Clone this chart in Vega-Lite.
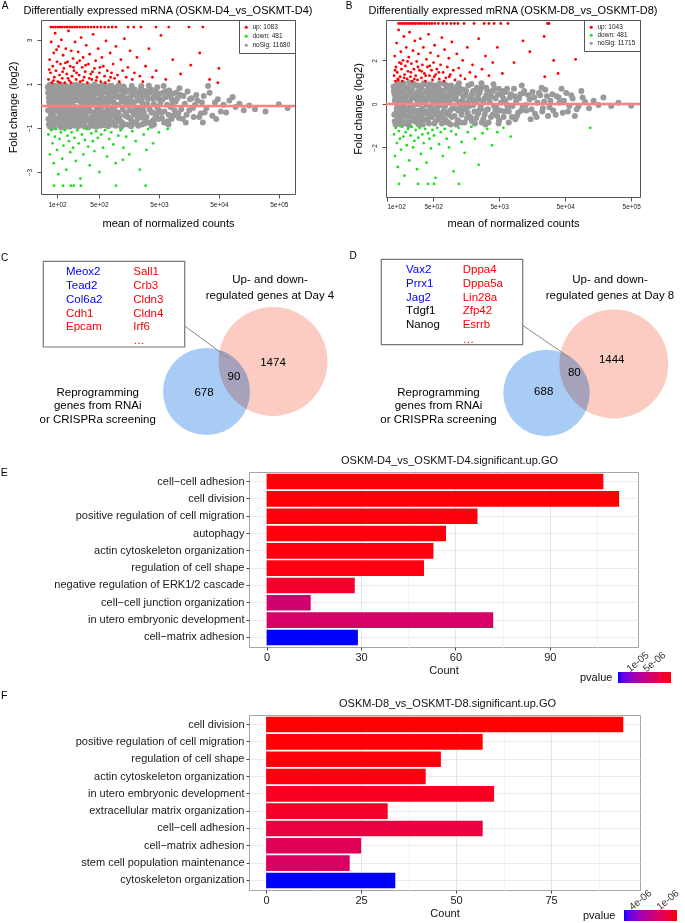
{
"$schema":"https://vega.github.io/schema/vega-lite/v6.json",
"padding":0,
"background":"white",
"config":{"font":"Liberation Sans","view":{"stroke":null},"text":{"color":"#000"}},
"datasets":{
"aN":[{"m":70,"fc":0.85},{"m":72,"fc":-0.6},{"m":74,"fc":0.2},{"m":76,"fc":-0.95},{"m":78,"fc":0.55},{"m":71,"fc":-0.2},{"m":75,"fc":0.95},{"m":79,"fc":-0.4},{"m":73,"fc":0.38},{"m":77,"fc":-0.78},{"m":80,"fc":0.05},
{"m":84,"fc":0.7},{"m":86,"fc":-0.3},{"m":88,"fc":0.92},{"m":90,"fc":-0.85},{"m":92,"fc":0.15},{"m":95,"fc":-0.55},{"m":97,"fc":0.45},{"m":99,"fc":-0.1},{"m":87,"fc":-0.97},{"m":93,"fc":0.62},{"m":98,"fc":0.88},{"m":91,"fc":-0.68},{"m":85,"fc":0.3},
{"m":104,"fc":-0.2},{"m":107,"fc":0.75},{"m":110,"fc":-0.9},{"m":113,"fc":0.4},{"m":116,"fc":-0.45},{"m":119,"fc":0.95},{"m":122,"fc":0.1},{"m":125,"fc":-0.7},{"m":128,"fc":0.58},{"m":106,"fc":0.22},{"m":112,"fc":-0.33},{"m":118,"fc":-0.98},{"m":124,"fc":0.82},{"m":130,"fc":-0.05},
{"m":134,"fc":0.35},{"m":138,"fc":-0.62},{"m":142,"fc":0.9},{"m":146,"fc":-0.15},{"m":150,"fc":0.65},{"m":154,"fc":-0.88},{"m":158,"fc":0.05},{"m":162,"fc":0.48},{"m":166,"fc":-0.4},{"m":170,"fc":0.8},{"m":140,"fc":-0.95},{"m":148,"fc":0.2},{"m":156,"fc":-0.5},{"m":168,"fc":-0.72},
{"m":175,"fc":0.12},{"m":180,"fc":-0.3},{"m":186,"fc":0.72},{"m":192,"fc":-0.8},{"m":198,"fc":0.42},{"m":204,"fc":-0.05},{"m":210,"fc":0.95},{"m":216,"fc":-0.6},{"m":222,"fc":0.28},{"m":228,"fc":-0.92},{"m":183,"fc":0.55},{"m":195,"fc":-0.45},{"m":207,"fc":0.6},{"m":219,"fc":0.85},{"m":225,"fc":-0.2},
{"m":235,"fc":0.5},{"m":242,"fc":-0.75},{"m":250,"fc":0.15},{"m":258,"fc":-0.35},{"m":266,"fc":0.88},{"m":274,"fc":-0.55},{"m":282,"fc":0.32},{"m":290,"fc":-0.95},{"m":298,"fc":0.7},{"m":306,"fc":-0.12},{"m":246,"fc":0.93},{"m":262,"fc":-0.85},{"m":278,"fc":0.02},{"m":294,"fc":0.45},{"m":310,"fc":-0.65},
{"m":320,"fc":0.6},{"m":330,"fc":-0.25},{"m":340,"fc":0.9},{"m":352,"fc":-0.7},{"m":364,"fc":0.22},{"m":376,"fc":-0.5},{"m":388,"fc":0.78},{"m":400,"fc":-0.9},{"m":412,"fc":0.35},{"m":335,"fc":-0.97},{"m":358,"fc":0.5},{"m":382,"fc":0.05},{"m":405,"fc":-0.3},{"m":420,"fc":0.97},{"m":346,"fc":0.1},
{"m":430,"fc":-0.45},{"m":444,"fc":0.68},{"m":458,"fc":-0.15},{"m":472,"fc":0.88},{"m":486,"fc":-0.8},{"m":500,"fc":0.3},{"m":515,"fc":-0.55},{"m":530,"fc":0.55},{"m":545,"fc":-0.05},{"m":560,"fc":0.92},{"m":450,"fc":-0.95},{"m":478,"fc":0.12},{"m":508,"fc":0.78},{"m":538,"fc":-0.75},{"m":552,"fc":0.4},
{"m":580,"fc":-0.3},{"m":600,"fc":0.62},{"m":620,"fc":-0.88},{"m":640,"fc":0.18},{"m":660,"fc":-0.45},{"m":680,"fc":0.85},{"m":700,"fc":-0.1},{"m":720,"fc":0.45},{"m":740,"fc":-0.7},{"m":590,"fc":0.95},{"m":630,"fc":-0.6},{"m":670,"fc":0.3},{"m":710,"fc":-0.92},{"m":750,"fc":0.7},
{"m":770,"fc":-0.2},{"m":800,"fc":0.55},{"m":830,"fc":-0.75},{"m":860,"fc":0.2},{"m":890,"fc":-0.4},{"m":920,"fc":0.8},{"m":950,"fc":-0.9},{"m":980,"fc":0.05},{"m":1000,"fc":0.4},{"m":815,"fc":0.92},{"m":875,"fc":-0.05},{"m":935,"fc":-0.55},{"m":965,"fc":0.65},
{"m":1050,"fc":-0.3},{"m":1100,"fc":0.75},{"m":1150,"fc":-0.7},{"m":1200,"fc":0.25},{"m":1250,"fc":-0.15},{"m":1300,"fc":0.6},{"m":1350,"fc":-0.85},{"m":1400,"fc":0.1},{"m":1080,"fc":0.95},{"m":1180,"fc":-0.95},{"m":1280,"fc":0.88},{"m":1380,"fc":-0.45},{"m":1220,"fc":0.45},
{"m":1450,"fc":0.35},{"m":1520,"fc":-0.5},{"m":1600,"fc":0.7},{"m":1680,"fc":-0.2},{"m":1760,"fc":0.9},{"m":1840,"fc":-0.75},{"m":1920,"fc":0.15},{"m":2000,"fc":-0.4},{"m":1560,"fc":0.05},{"m":1720,"fc":-0.92},{"m":1880,"fc":0.55},{"m":1650,"fc":0.4},
{"m":2100,"fc":0.6},{"m":2200,"fc":-0.6},{"m":2300,"fc":0.25},{"m":2400,"fc":-0.1},{"m":2500,"fc":0.8},{"m":2600,"fc":-0.85},{"m":2700,"fc":0.4},{"m":2800,"fc":-0.3},{"m":2900,"fc":0.05},{"m":3000,"fc":0.68},{"m":2250,"fc":-0.9},{"m":2550,"fc":0.9},{"m":2850,"fc":-0.6},
{"m":3100,"fc":-0.5},{"m":3300,"fc":0.3},{"m":3500,"fc":-0.15},{"m":3700,"fc":0.75},{"m":3900,"fc":-0.7},{"m":4100,"fc":0.1},{"m":4300,"fc":0.5},{"m":4500,"fc":-0.4},{"m":4700,"fc":0.85},{"m":5000,"fc":-0.2},{"m":3400,"fc":0.92},{"m":3800,"fc":-0.9},{"m":4200,"fc":-0.6},{"m":4800,"fc":0.35},
{"m":5300,"fc":0.15},{"m":5600,"fc":-0.55},{"m":5900,"fc":0.6},{"m":6200,"fc":-0.25},{"m":6600,"fc":0.4},{"m":7000,"fc":-0.7},{"m":7400,"fc":0.7},{"m":7800,"fc":-0.05},{"m":8200,"fc":0.3},{"m":8700,"fc":-0.45},{"m":6000,"fc":0.9},{"m":7200,"fc":-0.85},{"m":8400,"fc":0.55},
{"m":9500,"fc":0.2},{"m":10500,"fc":-0.35},{"m":11500,"fc":0.5},{"m":12500,"fc":-0.6},{"m":13500,"fc":0.1},{"m":15000,"fc":0.65},{"m":16000,"fc":-0.2},{"m":17500,"fc":0.35},{"m":19000,"fc":-0.5},{"m":20000,"fc":0.05},{"m":11000,"fc":0.8},{"m":14000,"fc":-0.75},
{"m":22000,"fc":0.25},{"m":25000,"fc":-0.35},{"m":28000,"fc":0.45},{"m":31000,"fc":-0.1},{"m":35000,"fc":0.6},{"m":39000,"fc":-0.45},{"m":43000,"fc":0.15},{"m":48000,"fc":0.3},{"m":54000,"fc":-0.25},{"m":60000,"fc":0.05},{"m":33000,"fc":0.9},{"m":45000,"fc":-0.6},{"m":27000,"fc":-0.75},
{"m":66000,"fc":-0.3},{"m":75000,"fc":0.25},{"m":85000,"fc":0.4},{"m":95000,"fc":-0.05},{"m":110000,"fc":0.1},{"m":130000,"fc":-0.2},{"m":160000,"fc":0.02},{"m":200000,"fc":-0.15},{"m":300000,"fc":-0.25},{"m":500000,"fc":0.08},{"m":700000,"fc":-0.1},
{"m":160,"fc":0.3},{"m":210,"fc":-0.25},{"m":260,"fc":0.4},{"m":320,"fc":-0.1},{"m":380,"fc":0.3},{"m":460,"fc":0.25},{"m":520,"fc":-0.35},{"m":610,"fc":0.05},{"m":720,"fc":-0.35},{"m":850,"fc":0.45},{"m":1020,"fc":-0.55},{"m":1180,"fc":0.5},{"m":1420,"fc":-0.3},{"m":1700,"fc":0.25},{"m":2050,"fc":-0.15},{"m":2450,"fc":0.5},{"m":3200,"fc":0.05},{"m":4000,"fc":-0.3},{"m":130,"fc":0.5},{"m":240,"fc":-0.5},{"m":560,"fc":0.15},{"m":900,"fc":-0.15},{"m":1600,"fc":-0.05},{"m":2700,"fc":-0.1},
{"m":71,"fc":0.6},{"m":73,"fc":-0.85},{"m":75,"fc":0.1},{"m":77,"fc":0.72},{"m":79,"fc":-0.15},{"m":81,"fc":0.9},{"m":83,"fc":-0.5},{"m":85,"fc":-0.8},{"m":87,"fc":0.5},{"m":89,"fc":0.25},{"m":91,"fc":0.02},{"m":94,"fc":-0.25},{"m":96,"fc":0.8},{"m":100,"fc":-0.75},{"m":102,"fc":0.55},{"m":105,"fc":0.05},{"m":108,"fc":-0.55},{"m":111,"fc":0.95},{"m":114,"fc":-0.1},{"m":117,"fc":0.6},{"m":120,"fc":-0.8},{"m":123,"fc":0.3},{"m":126,"fc":-0.3},{"m":129,"fc":0.9},{"m":132,"fc":-0.55},{"m":136,"fc":0.7},{"m":139,"fc":0.0},{"m":143,"fc":-0.35},{"m":147,"fc":0.55},{"m":151,"fc":-0.75},{"m":155,"fc":0.85},{"m":159,"fc":-0.2},{"m":163,"fc":-0.95},{"m":167,"fc":0.6},{"m":172,"fc":0.25},{"m":177,"fc":-0.6},{"m":182,"fc":0.95},{"m":188,"fc":-0.05},{"m":194,"fc":0.35},{"m":200,"fc":-0.9},{"m":206,"fc":0.25},{"m":212,"fc":-0.45},{"m":218,"fc":0.7},{"m":224,"fc":-0.7},{"m":230,"fc":0.5},{"m":237,"fc":-0.1},{"m":244,"fc":0.3},{"m":252,"fc":-0.6},{"m":260,"fc":0.65},{"m":268,"fc":-0.2},{"m":276,"fc":0.9},{"m":285,"fc":-0.8},{"m":292,"fc":0.15},{"m":300,"fc":-0.4},
{"m":315,"fc":0.85},{"m":325,"fc":-0.6},{"m":338,"fc":0.35},{"m":350,"fc":-0.2},{"m":362,"fc":0.75},{"m":374,"fc":-0.85},{"m":386,"fc":0.45},{"m":398,"fc":0.15},{"m":410,"fc":-0.65},{"m":425,"fc":0.6},{"m":438,"fc":-0.3},{"m":452,"fc":0.85},{"m":466,"fc":-0.55},{"m":482,"fc":0.55},{"m":496,"fc":-0.2},{"m":512,"fc":0.1},{"m":528,"fc":-0.9},{"m":548,"fc":0.72},{"m":566,"fc":-0.4},{"m":586,"fc":0.35},{"m":606,"fc":-0.7},{"m":626,"fc":0.8},{"m":648,"fc":-0.25},{"m":670,"fc":0.6},{"m":694,"fc":-0.6},{"m":716,"fc":0.15},{"m":744,"fc":0.9},{"m":766,"fc":-0.5},{"m":792,"fc":0.3},{"m":822,"fc":-0.85},{"m":852,"fc":0.7},{"m":880,"fc":-0.3},{"m":912,"fc":0.1},{"m":944,"fc":0.6},{"m":976,"fc":-0.7},{"m":1010,"fc":0.85},{"m":1060,"fc":0.05},{"m":1110,"fc":-0.45},{"m":1165,"fc":0.4},{"m":1215,"fc":-0.75},{"m":1270,"fc":0.2},{"m":1325,"fc":0.8},{"m":1390,"fc":-0.35},{"m":1460,"fc":0.65},{"m":1540,"fc":-0.85},{"m":1620,"fc":0.25},{"m":1700,"fc":-0.6},{"m":1790,"fc":0.5},{"m":1880,"fc":-0.35},{"m":1970,"fc":0.75},{"m":2070,"fc":-0.8},{"m":2170,"fc":0.35},{"m":2280,"fc":-0.3},{"m":2390,"fc":0.6},{"m":2510,"fc":-0.5},{"m":2640,"fc":0.15},{"m":2780,"fc":0.55},{"m":2920,"fc":-0.8},
{"m":3150,"fc":0.45},{"m":3350,"fc":-0.75},{"m":3550,"fc":0.6},{"m":3750,"fc":-0.3},{"m":3950,"fc":0.35},{"m":4150,"fc":-0.85},{"m":4400,"fc":0.7},{"m":4650,"fc":-0.05},{"m":4900,"fc":-0.6},{"m":5150,"fc":0.55},{"m":5450,"fc":-0.3},{"m":5750,"fc":0.3},{"m":6100,"fc":-0.75},{"m":6450,"fc":0.65},{"m":6850,"fc":0.05},{"m":7250,"fc":-0.4},{"m":7650,"fc":0.5},{"m":8100,"fc":-0.6},{"m":8600,"fc":0.15},{"m":9100,"fc":-0.2},{"m":9700,"fc":0.6},{"m":10200,"fc":0.35},{"m":10800,"fc":-0.55},{"m":11800,"fc":-0.15},{"m":12800,"fc":0.45},{"m":14500,"fc":-0.4},{"m":16500,"fc":0.3},{"m":18500,"fc":-0.1},{"m":21000,"fc":0.5},{"m":23500,"fc":-0.5},{"m":26000,"fc":0.15},{"m":29000,"fc":-0.3}],
"aU":[{"m":79,"fc":3.58},{"m":86,"fc":3.58},{"m":94,"fc":3.58},{"m":103,"fc":3.58},{"m":112,"fc":3.58},{"m":122,"fc":3.58},{"m":134,"fc":3.58},{"m":147,"fc":3.58},{"m":162,"fc":3.58},{"m":178,"fc":3.58},{"m":196,"fc":3.58},{"m":216,"fc":3.58},{"m":240,"fc":3.58},{"m":266,"fc":3.58},{"m":295,"fc":3.58},{"m":330,"fc":3.58},{"m":370,"fc":3.58},{"m":415,"fc":3.58},{"m":470,"fc":3.58},{"m":540,"fc":3.58},{"m":620,"fc":3.58},{"m":720,"fc":3.58},{"m":830,"fc":3.58},{"m":960,"fc":3.58},{"m":1530,"fc":3.58},{"m":1900,"fc":3.58},{"m":2500,"fc":3.58},{"m":4460,"fc":3.58},{"m":7300,"fc":3.58},{"m":15800,"fc":3.58},{"m":27000,"fc":3.58},
{"m":72,"fc":1.2},{"m":75,"fc":2.1},{"m":78,"fc":1.5},{"m":80,"fc":2.9},{"m":82,"fc":1.05},{"m":85,"fc":1.8},{"m":88,"fc":2.4},{"m":90,"fc":1.3},{"m":93,"fc":3.3},{"m":96,"fc":1.6},{"m":100,"fc":2.0},{"m":103,"fc":1.1},{"m":106,"fc":2.7},{"m":110,"fc":1.4},{"m":114,"fc":1.9},{"m":118,"fc":3.0},{"m":122,"fc":1.25},{"m":126,"fc":2.3},{"m":130,"fc":1.7},{"m":135,"fc":1.05},{"m":140,"fc":2.6},{"m":145,"fc":1.45},{"m":150,"fc":2.0},{"m":155,"fc":3.4},{"m":160,"fc":1.15},{"m":166,"fc":1.8},{"m":172,"fc":2.5},{"m":178,"fc":1.35},{"m":185,"fc":2.15},{"m":192,"fc":1.6},{"m":200,"fc":2.9},{"m":208,"fc":1.2},{"m":216,"fc":1.95},{"m":225,"fc":2.45},{"m":234,"fc":1.4},{"m":243,"fc":1.1},{"m":252,"fc":3.1},{"m":262,"fc":1.75},{"m":272,"fc":2.2},{"m":283,"fc":1.3},{"m":295,"fc":1.55},{"m":307,"fc":2.75},{"m":320,"fc":1.05},{"m":335,"fc":1.9},{"m":350,"fc":2.35},{"m":365,"fc":1.45},{"m":380,"fc":1.2},{"m":400,"fc":3.25},{"m":420,"fc":1.7},{"m":440,"fc":2.05},{"m":462,"fc":1.3},{"m":485,"fc":2.6},{"m":510,"fc":1.5},{"m":535,"fc":1.1},{"m":560,"fc":2.2},{"m":590,"fc":1.8},{"m":620,"fc":1.35},{"m":655,"fc":2.95},{"m":690,"fc":1.6},{"m":730,"fc":1.15},{"m":770,"fc":2.4},{"m":810,"fc":1.5},{"m":860,"fc":1.9},{"m":910,"fc":1.25},{"m":960,"fc":2.7},{"m":1020,"fc":1.4},{"m":1090,"fc":1.1},{"m":1160,"fc":2.1},{"m":1240,"fc":1.6},{"m":1330,"fc":3.05},{"m":1420,"fc":1.3},{"m":1520,"fc":1.75},{"m":1650,"fc":2.5},{"m":1800,"fc":1.2},{"m":1950,"fc":1.5},{"m":2150,"fc":2.2},{"m":2400,"fc":1.35},{"m":2700,"fc":1.1},{"m":3000,"fc":1.8},{"m":3400,"fc":2.6},{"m":3900,"fc":1.3},{"m":4500,"fc":1.6},{"m":5400,"fc":3.2},{"m":6500,"fc":1.2},{"m":8500,"fc":2.1},{"m":11500,"fc":1.45},{"m":17000,"fc":1.85},{"m":24000,"fc":2.4},{"m":48000,"fc":1.05},{"m":50000,"fc":1.7},{"m":35000,"fc":1.2},
{"m":74,"fc":1.65},{"m":87,"fc":1.15},{"m":98,"fc":2.55},{"m":112,"fc":1.05},{"m":124,"fc":1.55},{"m":138,"fc":1.95},{"m":152,"fc":1.25},{"m":170,"fc":1.05},{"m":188,"fc":1.75},{"m":212,"fc":1.5},{"m":238,"fc":2.05},{"m":268,"fc":1.15},{"m":300,"fc":1.85},{"m":345,"fc":1.25},{"m":390,"fc":1.55},{"m":450,"fc":1.15},{"m":520,"fc":1.75},{"m":640,"fc":1.05},{"m":780,"fc":1.3}],
"aD":[{"m":72,"fc":-1.3},{"m":76,"fc":-2.2},{"m":80,"fc":-1.1},{"m":84,"fc":-1.7},{"m":88,"fc":-2.6},{"m":92,"fc":-1.4},{"m":96,"fc":-1.05},{"m":100,"fc":-2.0},{"m":105,"fc":-3.1},{"m":110,"fc":-1.5},{"m":116,"fc":-1.2},{"m":122,"fc":-2.4},{"m":128,"fc":-1.8},{"m":135,"fc":-1.1},{"m":142,"fc":-2.9},{"m":150,"fc":-1.35},{"m":158,"fc":-1.6},{"m":166,"fc":-2.1},{"m":175,"fc":-1.2},{"m":185,"fc":-1.9},{"m":195,"fc":-1.45},{"m":206,"fc":-2.5},{"m":218,"fc":-1.1},{"m":230,"fc":-1.7},{"m":245,"fc":-3.3},{"m":260,"fc":-1.3},{"m":275,"fc":-2.2},{"m":292,"fc":-1.55},{"m":310,"fc":-1.05},{"m":330,"fc":-1.85},{"m":350,"fc":-2.7},{"m":372,"fc":-1.25},{"m":395,"fc":-1.6},{"m":420,"fc":-2.05},{"m":448,"fc":-1.15},{"m":478,"fc":-1.45},{"m":510,"fc":-3.0},{"m":545,"fc":-1.3},{"m":585,"fc":-1.9},{"m":630,"fc":-1.1},{"m":680,"fc":-2.3},{"m":740,"fc":-1.5},{"m":800,"fc":-1.2},{"m":870,"fc":-1.75},{"m":950,"fc":-2.6},{"m":1050,"fc":-1.35},{"m":1150,"fc":-1.1},{"m":1280,"fc":-1.9},{"m":1420,"fc":-1.4},{"m":1600,"fc":-2.2},{"m":1800,"fc":-1.15},{"m":2050,"fc":-1.6},{"m":2400,"fc":-2.9},{"m":2800,"fc":-1.3},{"m":3300,"fc":-1.05},{"m":4000,"fc":-1.7},{"m":5000,"fc":-1.2},{"m":7000,"fc":-1.05},{"m":3100,"fc":-2.0},{"m":1250,"fc":-2.45},
{"m":89,"fc":-3.62},{"m":126,"fc":-3.62},{"m":170,"fc":-3.62},{"m":190,"fc":-3.62},{"m":250,"fc":-3.62},{"m":960,"fc":-3.62},{"m":3000,"fc":-3.62}],
"bN":[{"m":126,"fc":0.8},{"m":129,"fc":-0.5},{"m":132,"fc":0.15},{"m":135,"fc":-0.95},{"m":138,"fc":0.55},{"m":141,"fc":-0.2},{"m":144,"fc":0.95},{"m":147,"fc":-0.7},{"m":150,"fc":0.35},{"m":153,"fc":-0.35},{"m":156,"fc":0.7},{"m":159,"fc":-0.85},{"m":130,"fc":0.45},{"m":145,"fc":0.05},{"m":155,"fc":-0.6},
{"m":162,"fc":0.25},{"m":166,"fc":-0.45},{"m":170,"fc":0.9},{"m":175,"fc":-0.15},{"m":180,"fc":0.6},{"m":185,"fc":-0.9},{"m":190,"fc":0.05},{"m":195,"fc":0.75},{"m":200,"fc":-0.6},{"m":206,"fc":0.4},{"m":212,"fc":-0.25},{"m":218,"fc":0.98},{"m":168,"fc":-0.75},{"m":188,"fc":0.3},{"m":214,"fc":-0.98},
{"m":224,"fc":0.1},{"m":231,"fc":-0.55},{"m":238,"fc":0.68},{"m":246,"fc":-0.1},{"m":254,"fc":0.45},{"m":262,"fc":-0.8},{"m":270,"fc":0.85},{"m":279,"fc":0.2},{"m":288,"fc":-0.4},{"m":297,"fc":0.6},{"m":306,"fc":-0.95},{"m":315,"fc":0.3},{"m":242,"fc":0.95},{"m":266,"fc":-0.3},{"m":300,"fc":-0.65},{"m":320,"fc":0.05},
{"m":330,"fc":0.75},{"m":342,"fc":-0.2},{"m":354,"fc":0.5},{"m":366,"fc":-0.7},{"m":378,"fc":0.15},{"m":390,"fc":0.9},{"m":404,"fc":-0.45},{"m":418,"fc":0.35},{"m":432,"fc":-0.9},{"m":446,"fc":0.62},{"m":460,"fc":-0.1},{"m":348,"fc":-0.95},{"m":384,"fc":-0.35},{"m":425,"fc":0.8},{"m":455,"fc":0.2},
{"m":475,"fc":-0.6},{"m":492,"fc":0.45},{"m":510,"fc":-0.25},{"m":528,"fc":0.85},{"m":546,"fc":-0.8},{"m":565,"fc":0.1},{"m":585,"fc":0.55},{"m":605,"fc":-0.4},{"m":625,"fc":0.95},{"m":645,"fc":-0.05},{"m":665,"fc":0.3},{"m":680,"fc":-0.9},{"m":500,"fc":0.05},{"m":555,"fc":-0.5},{"m":615,"fc":0.7},
{"m":700,"fc":0.6},{"m":725,"fc":-0.3},{"m":750,"fc":0.15},{"m":775,"fc":-0.75},{"m":800,"fc":0.85},{"m":830,"fc":0.35},{"m":860,"fc":-0.5},{"m":890,"fc":0.05},{"m":920,"fc":-0.95},{"m":950,"fc":0.7},{"m":980,"fc":-0.2},{"m":1000,"fc":0.45},{"m":740,"fc":0.92},{"m":845,"fc":-0.85},{"m":965,"fc":0.25},
{"m":1050,"fc":-0.55},{"m":1100,"fc":0.2},{"m":1150,"fc":0.8},{"m":1200,"fc":-0.3},{"m":1260,"fc":0.5},{"m":1320,"fc":-0.85},{"m":1380,"fc":0.1},{"m":1440,"fc":0.65},{"m":1500,"fc":-0.15},{"m":1120,"fc":-0.95},{"m":1230,"fc":0.95},{"m":1350,"fc":-0.5},{"m":1470,"fc":0.35},
{"m":1560,"fc":0.4},{"m":1630,"fc":-0.65},{"m":1700,"fc":0.85},{"m":1780,"fc":-0.1},{"m":1860,"fc":0.3},{"m":1940,"fc":-0.8},{"m":2020,"fc":0.6},{"m":2110,"fc":-0.35},{"m":2200,"fc":0.1},{"m":2300,"fc":0.75},{"m":1660,"fc":0.05},{"m":1900,"fc":0.92},{"m":2150,"fc":-0.9},
{"m":2400,"fc":-0.45},{"m":2520,"fc":0.5},{"m":2640,"fc":-0.1},{"m":2760,"fc":0.8},{"m":2880,"fc":-0.7},{"m":3000,"fc":0.25},{"m":3150,"fc":-0.3},{"m":3300,"fc":0.6},{"m":3450,"fc":-0.85},{"m":3600,"fc":0.1},{"m":2700,"fc":0.95},{"m":3100,"fc":-0.95},{"m":3500,"fc":0.45},
{"m":3800,"fc":0.35},{"m":4000,"fc":-0.5},{"m":4250,"fc":0.7},{"m":4500,"fc":-0.15},{"m":4750,"fc":0.45},{"m":5000,"fc":-0.75},{"m":5300,"fc":0.05},{"m":5600,"fc":0.6},{"m":6000,"fc":-0.35},{"m":4100,"fc":0.9},{"m":4900,"fc":-0.9},{"m":5800,"fc":0.25},
{"m":6300,"fc":0.55},{"m":6800,"fc":-0.2},{"m":7300,"fc":0.3},{"m":7800,"fc":-0.6},{"m":8400,"fc":0.7},{"m":9000,"fc":0.1},{"m":9700,"fc":-0.4},{"m":10500,"fc":0.45},{"m":11300,"fc":-0.1},{"m":12000,"fc":0.6},{"m":7000,"fc":-0.85},{"m":8800,"fc":-0.7},{"m":11000,"fc":0.85},
{"m":13000,"fc":-0.3},{"m":14500,"fc":0.2},{"m":16000,"fc":0.55},{"m":17500,"fc":-0.45},{"m":19000,"fc":0.05},{"m":21000,"fc":0.4},{"m":23000,"fc":-0.2},{"m":25000,"fc":0.65},{"m":27500,"fc":-0.55},{"m":30000,"fc":0.15},{"m":15000,"fc":-0.7},{"m":22000,"fc":0.75},
{"m":33000,"fc":-0.3},{"m":37000,"fc":0.35},{"m":41000,"fc":0.05},{"m":46000,"fc":-0.4},{"m":52000,"fc":0.5},{"m":58000,"fc":-0.1},{"m":65000,"fc":0.25},{"m":75000,"fc":-0.25},{"m":88000,"fc":0.6},{"m":100000,"fc":0.1},{"m":115000,"fc":-0.2},{"m":44000,"fc":0.7},{"m":70000,"fc":-0.55},
{"m":135000,"fc":0.15},{"m":160000,"fc":-0.05},{"m":190000,"fc":0.3},{"m":250000,"fc":-0.1},{"m":320000,"fc":0.05},{"m":500000,"fc":-0.08},
{"m":140,"fc":0.3},{"m":180,"fc":-0.35},{"m":235,"fc":0.3},{"m":290,"fc":0.0},{"m":360,"fc":0.25},{"m":440,"fc":-0.3},{"m":520,"fc":0.25},{"m":640,"fc":0.4},{"m":760,"fc":-0.4},{"m":900,"fc":0.5},{"m":1080,"fc":0.3},{"m":1290,"fc":-0.1},{"m":1600,"fc":-0.25},{"m":1980,"fc":0.2},{"m":2450,"fc":0.2},{"m":3200,"fc":0.4},{"m":4400,"fc":-0.3},{"m":6600,"fc":-0.05},{"m":175,"fc":0.55},{"m":330,"fc":-0.5},{"m":580,"fc":-0.15},{"m":1180,"fc":0.6},{"m":2600,"fc":-0.25},
{"m":127,"fc":0.6},{"m":131,"fc":-0.8},{"m":134,"fc":0.25},{"m":137,"fc":-0.4},{"m":140,"fc":0.85},{"m":143,"fc":0.0},{"m":146,"fc":-0.6},{"m":149,"fc":0.7},{"m":152,"fc":-0.15},{"m":157,"fc":0.5},{"m":161,"fc":-0.95},{"m":164,"fc":0.1},{"m":168,"fc":0.65},{"m":172,"fc":-0.3},{"m":177,"fc":0.95},{"m":182,"fc":-0.55},{"m":187,"fc":0.4},{"m":192,"fc":-0.2},{"m":197,"fc":0.15},{"m":203,"fc":-0.85},{"m":209,"fc":0.75},{"m":216,"fc":-0.45},{"m":222,"fc":0.55},{"m":228,"fc":-0.05},{"m":235,"fc":-0.75},{"m":240,"fc":0.3},{"m":250,"fc":-0.35},{"m":258,"fc":0.9},{"m":266,"fc":0.3},{"m":275,"fc":-0.6},{"m":284,"fc":0.5},{"m":293,"fc":-0.9},{"m":302,"fc":0.85},{"m":312,"fc":-0.3},
{"m":325,"fc":0.45},{"m":337,"fc":-0.75},{"m":350,"fc":0.2},{"m":362,"fc":0.95},{"m":374,"fc":-0.4},{"m":387,"fc":0.6},{"m":400,"fc":-0.05},{"m":414,"fc":-0.75},{"m":428,"fc":0.45},{"m":442,"fc":-0.55},{"m":458,"fc":0.9},{"m":472,"fc":0.25},{"m":488,"fc":-0.35},{"m":505,"fc":0.65},{"m":522,"fc":-0.9},{"m":540,"fc":0.35},{"m":560,"fc":-0.2},{"m":580,"fc":0.8},{"m":600,"fc":-0.7},{"m":620,"fc":0.15},{"m":642,"fc":-0.5},{"m":662,"fc":0.55},{"m":685,"fc":0.0},{"m":710,"fc":-0.65},{"m":735,"fc":0.4},{"m":760,"fc":-0.1},{"m":788,"fc":0.7},{"m":815,"fc":-0.85},{"m":842,"fc":0.1},{"m":872,"fc":0.55},{"m":902,"fc":-0.3},{"m":935,"fc":0.85},{"m":968,"fc":-0.6},{"m":1020,"fc":0.6},{"m":1070,"fc":-0.2},{"m":1125,"fc":0.4},{"m":1180,"fc":-0.75},{"m":1240,"fc":0.1},{"m":1300,"fc":0.7},{"m":1365,"fc":-0.3},{"m":1430,"fc":0.3},{"m":1500,"fc":-0.85},{"m":1580,"fc":0.6},{"m":1670,"fc":-0.4},{"m":1750,"fc":0.15},{"m":1840,"fc":-0.6},{"m":1930,"fc":0.45},{"m":2030,"fc":-0.05},{"m":2130,"fc":0.6},{"m":2250,"fc":-0.65},{"m":2360,"fc":0.35},{"m":2480,"fc":-0.3},{"m":2600,"fc":0.65},{"m":2730,"fc":-0.85},{"m":2870,"fc":0.1},{"m":3020,"fc":-0.5},
{"m":3200,"fc":0.75},{"m":3380,"fc":-0.25},{"m":3560,"fc":0.3},{"m":3760,"fc":-0.6},{"m":3950,"fc":0.6},{"m":4180,"fc":-0.1},{"m":4420,"fc":0.25},{"m":4680,"fc":-0.55},{"m":4950,"fc":0.7},{"m":5200,"fc":-0.3},{"m":5500,"fc":0.4},{"m":5850,"fc":-0.6},{"m":6200,"fc":0.15},{"m":6600,"fc":0.7},{"m":7000,"fc":-0.35},{"m":7500,"fc":0.45},{"m":8000,"fc":-0.1},{"m":8600,"fc":0.35},{"m":9300,"fc":-0.55},{"m":10000,"fc":0.25},{"m":10800,"fc":-0.3},{"m":11700,"fc":0.5},{"m":12600,"fc":-0.05},{"m":13800,"fc":0.4},{"m":15500,"fc":-0.25},{"m":17000,"fc":0.3},{"m":18500,"fc":-0.6},{"m":20000,"fc":0.5},{"m":22500,"fc":-0.35},{"m":24000,"fc":0.1},{"m":26500,"fc":0.35},{"m":29000,"fc":-0.15},{"m":32000,"fc":0.45},{"m":36000,"fc":-0.5},{"m":40000,"fc":0.3},{"m":48000,"fc":0.15},{"m":55000,"fc":-0.35},{"m":62000,"fc":0.4},{"m":80000,"fc":-0.1},{"m":92000,"fc":0.3}],
"bU":[{"m":150,"fc":3.7},{"m":160,"fc":3.7},{"m":172,"fc":3.7},{"m":185,"fc":3.7},{"m":200,"fc":3.7},{"m":215,"fc":3.7},{"m":232,"fc":3.7},{"m":250,"fc":3.7},{"m":270,"fc":3.7},{"m":292,"fc":3.7},{"m":315,"fc":3.7},{"m":340,"fc":3.7},{"m":370,"fc":3.7},{"m":400,"fc":3.7},{"m":440,"fc":3.7},{"m":480,"fc":3.7},{"m":530,"fc":3.7},{"m":600,"fc":3.7},{"m":700,"fc":3.7},{"m":800,"fc":3.7},{"m":930,"fc":3.7},{"m":1050,"fc":3.7},{"m":1190,"fc":3.7},{"m":1470,"fc":3.7},{"m":2080,"fc":3.7},{"m":2960,"fc":3.7},{"m":3500,"fc":3.7},{"m":4200,"fc":3.7},{"m":5300,"fc":3.7},{"m":6800,"fc":3.7},{"m":27000,"fc":3.7},{"m":28500,"fc":3.7},
{"m":128,"fc":1.3},{"m":131,"fc":2.2},{"m":134,"fc":1.05},{"m":137,"fc":1.7},{"m":140,"fc":2.8},{"m":143,"fc":1.45},{"m":146,"fc":1.15},{"m":150,"fc":3.4},{"m":154,"fc":1.9},{"m":158,"fc":1.25},{"m":162,"fc":2.4},{"m":166,"fc":1.6},{"m":170,"fc":1.05},{"m":175,"fc":2.0},{"m":180,"fc":3.1},{"m":185,"fc":1.35},{"m":190,"fc":1.75},{"m":196,"fc":2.6},{"m":202,"fc":1.15},{"m":208,"fc":1.5},{"m":214,"fc":2.15},{"m":220,"fc":3.3},{"m":227,"fc":1.25},{"m":234,"fc":1.85},{"m":241,"fc":1.05},{"m":248,"fc":2.45},{"m":256,"fc":1.6},{"m":264,"fc":2.9},{"m":272,"fc":1.3},{"m":281,"fc":1.95},{"m":290,"fc":1.1},{"m":300,"fc":2.3},{"m":310,"fc":1.55},{"m":320,"fc":3.0},{"m":332,"fc":1.2},{"m":344,"fc":1.8},{"m":356,"fc":2.6},{"m":368,"fc":1.4},{"m":382,"fc":1.05},{"m":396,"fc":2.05},{"m":410,"fc":1.7},{"m":425,"fc":3.2},{"m":440,"fc":1.3},{"m":456,"fc":2.35},{"m":472,"fc":1.55},{"m":490,"fc":1.1},{"m":508,"fc":1.9},{"m":528,"fc":2.7},{"m":548,"fc":1.35},{"m":570,"fc":1.6},{"m":595,"fc":2.2},{"m":620,"fc":1.15},{"m":648,"fc":1.8},{"m":678,"fc":3.05},{"m":710,"fc":1.45},{"m":745,"fc":2.5},{"m":780,"fc":1.2},{"m":820,"fc":1.7},{"m":865,"fc":2.1},{"m":910,"fc":1.35},{"m":960,"fc":2.85},{"m":1010,"fc":1.55},{"m":1070,"fc":1.1},{"m":1140,"fc":2.3},{"m":1220,"fc":1.65},{"m":1300,"fc":1.3},{"m":1400,"fc":2.0},{"m":1520,"fc":1.15},{"m":1650,"fc":2.6},{"m":1800,"fc":1.45},{"m":1980,"fc":1.8},{"m":2200,"fc":1.25},{"m":2450,"fc":3.0},{"m":2750,"fc":1.6},{"m":3100,"fc":2.2},{"m":3500,"fc":1.3},{"m":4000,"fc":1.9},{"m":4700,"fc":2.6},{"m":5600,"fc":1.4},{"m":8400,"fc":1.9},{"m":11500,"fc":2.9},{"m":14600,"fc":2.4},{"m":24000,"fc":3.1},{"m":24500,"fc":1.25},{"m":33500,"fc":2.0},{"m":39000,"fc":1.4},{"m":72000,"fc":2.05},
{"m":133,"fc":1.55},{"m":148,"fc":1.1},{"m":164,"fc":1.85},{"m":182,"fc":1.2},{"m":205,"fc":1.95},{"m":230,"fc":1.45},{"m":260,"fc":1.15},{"m":295,"fc":1.7},{"m":335,"fc":1.5},{"m":385,"fc":1.3},{"m":445,"fc":1.75},{"m":520,"fc":1.25},{"m":610,"fc":1.45},{"m":730,"fc":1.05},{"m":880,"fc":1.25}],
"bD":[{"m":128,"fc":-1.4},{"m":132,"fc":-2.4},{"m":136,"fc":-1.1},{"m":141,"fc":-1.8},{"m":146,"fc":-2.9},{"m":151,"fc":-1.25},{"m":157,"fc":-1.6},{"m":163,"fc":-2.1},{"m":170,"fc":-1.05},{"m":177,"fc":-1.5},{"m":184,"fc":-3.3},{"m":192,"fc":-1.3},{"m":200,"fc":-1.9},{"m":209,"fc":-1.15},{"m":218,"fc":-2.6},{"m":228,"fc":-1.45},{"m":238,"fc":-1.05},{"m":249,"fc":-2.0},{"m":260,"fc":-1.7},{"m":272,"fc":-1.2},{"m":285,"fc":-3.0},{"m":298,"fc":-1.55},{"m":312,"fc":-1.1},{"m":327,"fc":-2.3},{"m":343,"fc":-1.4},{"m":360,"fc":-1.8},{"m":378,"fc":-1.15},{"m":397,"fc":-2.7},{"m":418,"fc":-1.35},{"m":440,"fc":-1.6},{"m":463,"fc":-2.05},{"m":488,"fc":-1.2},{"m":515,"fc":-1.45},{"m":545,"fc":-3.4},{"m":578,"fc":-1.1},{"m":614,"fc":-1.85},{"m":654,"fc":-1.3},{"m":700,"fc":-2.4},{"m":750,"fc":-1.15},{"m":805,"fc":-1.6},{"m":870,"fc":-2.0},{"m":940,"fc":-1.25},{"m":1020,"fc":-3.1},{"m":1110,"fc":-1.4},{"m":1220,"fc":-1.1},{"m":1350,"fc":-1.75},{"m":1500,"fc":-2.25},{"m":1680,"fc":-1.3},{"m":1900,"fc":-1.05},{"m":2150,"fc":-1.6},{"m":2450,"fc":-2.8},{"m":2800,"fc":-1.35},{"m":3300,"fc":-1.15},{"m":3900,"fc":-1.9},{"m":4700,"fc":-1.3},{"m":5800,"fc":-1.1},{"m":7500,"fc":-1.5},{"m":120000,"fc":-1.1},
{"m":152,"fc":-3.68},{"m":295,"fc":-3.68},{"m":417,"fc":-3.68},{"m":515,"fc":-3.68},{"m":1230,"fc":-3.68}],
"goE":[{"term":"cell−cell adhesion","count":107,"p":2e-7},{"term":"cell division","count":112,"p":1e-7},{"term":"positive regulation of cell migration","count":67,"p":3e-7},{"term":"autophagy","count":57,"p":3e-7},{"term":"actin cytoskeleton organization","count":53,"p":4e-7},{"term":"regulation of cell shape","count":50,"p":5e-7},{"term":"negative regulation of ERK1/2 cascade","count":28,"p":1.8e-6},{"term":"cell−cell junction organization","count":14,"p":6.2e-6},{"term":"in utero embryonic development","count":72,"p":5.6e-6},{"term":"cell−matrix adhesion","count":29,"p":1.6e-5}],
"goF":[{"term":"cell division","count":94,"p":1e-8},{"term":"positive regulation of cell migration","count":57,"p":5e-8},{"term":"regulation of cell shape","count":46,"p":8e-8},{"term":"actin cytoskeleton organization","count":42,"p":1.5e-7},{"term":"in utero embryonic development","count":60,"p":4e-7},{"term":"extracellular matrix organization","count":32,"p":5.5e-7},{"term":"cell−cell adhesion","count":57,"p":1.1e-6},{"term":"cell−matrix adhesion","count":25,"p":1.6e-6},{"term":"stem cell population maintenance","count":22,"p":1.9e-6},{"term":"cytoskeleton organization","count":34,"p":5.8e-6}],
"circC":[{"set":"screen","cx":20.55,"cy":8.35},{"set":"day","cx":27.2,"cy":11.35}],
"circD":[{"set":"screen","cx":20.55,"cy":8.2},{"set":"day","cx":27.28,"cy":11.1}],
"labC":[{"t":"Up- and down-","x":26.9,"y":19.47},{"t":"regulated genes at Day 4","x":26.9,"y":17.9},{"t":"Reprogramming","x":9.67,"y":8.23},{"t":"genes from RNAi","x":9.67,"y":6.87},{"t":"or CRISPRa screening","x":9.67,"y":5.47},{"t":"678","x":20.3,"y":8.2},{"t":"90","x":23.3,"y":9.8},{"t":"1474","x":27.2,"y":11.2}],
"labD":[{"t":"Up- and down-","x":26.9,"y":19.47},{"t":"regulated genes at Day 8","x":26.9,"y":17.9},{"t":"Reprogramming","x":9.75,"y":8.23},{"t":"genes from RNAi","x":9.75,"y":6.87},{"t":"or CRISPRa screening","x":9.75,"y":5.47},{"t":"688","x":20.27,"y":8.3},{"t":"80","x":23.33,"y":10.23},{"t":"1444","x":27.07,"y":11.53}],
"genesC":[{"g":"Meox2","x":6.5,"y":20.3,"c":"blue"},{"g":"Tead2","x":6.5,"y":18.9,"c":"blue"},{"g":"Col6a2","x":6.5,"y":17.53,"c":"blue"},{"g":"Cdh1","x":6.5,"y":16.13,"c":"red"},{"g":"Epcam","x":6.5,"y":14.8,"c":"red"},{"g":"Sall1","x":13.23,"y":20.3,"c":"red"},{"g":"Crb3","x":13.23,"y":18.9,"c":"red"},{"g":"Cldn3","x":13.23,"y":17.53,"c":"red"},{"g":"Cldn4","x":13.23,"y":16.13,"c":"red"},{"g":"Irf6","x":13.23,"y":14.8,"c":"red"},{"g":"…","x":13.23,"y":13.4,"c":"red"}],
"genesD":[{"g":"Vax2","x":6.5,"y":20.53,"c":"blue"},{"g":"Prrx1","x":6.5,"y":19.13,"c":"blue"},{"g":"Jag2","x":6.5,"y":17.73,"c":"blue"},{"g":"Tdgf1","x":6.5,"y":16.37,"c":"black"},{"g":"Nanog","x":6.5,"y":14.97,"c":"black"},{"g":"Dppa4","x":12.17,"y":20.53,"c":"red"},{"g":"Dppa5a","x":12.17,"y":19.13,"c":"red"},{"g":"Lin28a","x":12.17,"y":17.73,"c":"red"},{"g":"Zfp42","x":12.17,"y":16.37,"c":"red"},{"g":"Esrrb","x":12.17,"y":14.97,"c":"red"},{"g":"…","x":12.17,"y":13.53,"c":"red"}]
},
"bounds":"full",
"spacing":0,
"resolve":{"scale":{"color":"independent","size":"independent"},"legend":{"color":"independent"}},
"vconcat":[
{"width":685,"height":18,
"layer":[
{"data":{"values":[{"lab":"A","x":0.006,"y":0.75},{"lab":"B","x":0.508,"y":0.72}]},"mark":{"type":"text","fontSize":10,"align":"center","baseline":"middle"},"encoding":{"x":{"field":"x","type":"quantitative","scale":{"domain":[0,1]},"axis":null},"y":{"field":"y","type":"quantitative","scale":{"domain":[0,1]},"axis":null},"text":{"field":"lab"}}},
{"data":{"values":[{"t":"Differentially expressed mRNA (OSKM-D4_vs_OSKMT-D4)","x":0.2438,"y":0.47},{"t":"Differentially expressed mRNA (OSKM-D8_vs_OSKMT-D8)","x":0.7474,"y":0.47}]},"mark":{"type":"text","fontSize":11,"align":"center","baseline":"middle"},"encoding":{"x":{"field":"x","type":"quantitative"},"y":{"field":"y","type":"quantitative"},"text":{"field":"t"}}}
]},
{"bounds":"flush","spacing":0,"resolve":{"scale":{"color":"independent"},"legend":{"color":"independent"}},
"hconcat":[
{"width":40,"height":214,"data":{"values":[]},"mark":"point"},
{"width":254,"height":174,"view":{"stroke":"#555"},
"layer":[
{"data":{"name":"aN"},"mark":{"type":"circle","size":36,"opacity":1},"encoding":{
"x":{"field":"m","type":"quantitative","scale":{"type":"log","domain":[54,930000],"nice":false},"axis":{"values":[100,500,5000,50000,500000],"labelExpr":"replace(format(datum.value,'.0e'),'e+','e+0')","title":"mean of normalized counts","titleFontSize":11,"titleFontWeight":"normal","titlePadding":10,"titleColor":"#000","labelFontSize":6.5,"tickSize":4,"labelPadding":3,"domain":false,"grid":false,"tickColor":"#555","labelColor":"#222"}},
"y":{"field":"fc","type":"quantitative","scale":{"domain":[-4,3.9],"nice":false,"zero":false},"axis":{"values":[-3,-2,-1,0,1,2,3],"labelAngle":270,"labelAlign":"center","labelBaseline":"bottom","labelFontSize":6.5,"tickSize":4,"labelPadding":5,"title":"Fold change (log2)","titleFontSize":11,"titleFontWeight":"normal","titlePadding":8,"titleColor":"#000","domain":false,"grid":false,"tickColor":"#555","labelColor":"#222"}},
"color":{"datum":"noSig: 11680","scale":{"domain":["up: 1083","down: 481","noSig: 11680"],"range":["#FF0000","#22DD22","#9A9A9A"]},"legend":{"title":null,"orient":"top-right","offset":0,"padding":4,"strokeColor":"#555","fillColor":"white","labelFontSize":6.5,"symbolSize":10,"symbolType":"circle","rowPadding":2,"labelColor":"#222","labelOffset":3}}}},
{"data":{"name":"aU"},"mark":{"type":"circle","size":8,"opacity":1},"encoding":{"x":{"field":"m","type":"quantitative"},"y":{"field":"fc","type":"quantitative"},"color":{"datum":"up: 1083"}}},
{"data":{"name":"aD"},"mark":{"type":"circle","size":8,"opacity":1},"encoding":{"x":{"field":"m","type":"quantitative"},"y":{"field":"fc","type":"quantitative"},"color":{"datum":"down: 481"}}},
{"data":{"values":[{}]},"mark":{"type":"rule","color":"#FF8080","strokeWidth":2.5},"encoding":{"y":{"datum":0}}}
]},
{"width":91,"height":1,"data":{"values":[]},"mark":"point"},
{"width":254,"height":177,"view":{"stroke":"#555"},
"layer":[
{"data":{"name":"bN"},"mark":{"type":"circle","size":36,"opacity":1},"encoding":{
"x":{"field":"m","type":"quantitative","scale":{"type":"log","domain":[96.6,681000],"nice":false},"axis":{"values":[100,500,5000,50000,500000],"labelExpr":"replace(format(datum.value,'.0e'),'e+','e+0')","title":"mean of normalized counts","titleFontSize":11,"titleFontWeight":"normal","titlePadding":8,"titleColor":"#000","labelFontSize":6.5,"tickSize":4,"labelPadding":2,"domain":false,"grid":false,"tickColor":"#555","labelColor":"#222"}},
"y":{"field":"fc","type":"quantitative","scale":{"domain":[-4.28,3.86],"nice":false,"zero":false},"axis":{"values":[-2,0,2],"labelAngle":270,"labelAlign":"center","labelBaseline":"bottom","labelFontSize":6.5,"tickSize":4,"labelPadding":5,"title":"Fold change (log2)","titleFontSize":11,"titleFontWeight":"normal","titlePadding":8,"titleColor":"#000","domain":false,"grid":false,"tickColor":"#555","labelColor":"#222"}},
"color":{"datum":"noSig: 11715","scale":{"domain":["up: 1043","down: 481","noSig: 11715"],"range":["#FF0000","#22DD22","#9A9A9A"]},"legend":{"title":null,"orient":"top-right","offset":0,"padding":4,"strokeColor":"#555","fillColor":"white","labelFontSize":6.5,"symbolSize":10,"symbolType":"circle","rowPadding":1,"labelColor":"#222","labelOffset":3}}}},
{"data":{"name":"bU"},"mark":{"type":"circle","size":8,"opacity":1},"encoding":{"x":{"field":"m","type":"quantitative"},"y":{"field":"fc","type":"quantitative"},"color":{"datum":"up: 1043"}}},
{"data":{"name":"bD"},"mark":{"type":"circle","size":8,"opacity":1},"encoding":{"x":{"field":"m","type":"quantitative"},"y":{"field":"fc","type":"quantitative"},"color":{"datum":"down: 481"}}},
{"data":{"values":[{}]},"mark":{"type":"rule","color":"#FF8080","strokeWidth":2.5},"encoding":{"y":{"datum":0}}}
]}
]},
{"bounds":"flush","spacing":0,"resolve":{"scale":{"color":"independent","size":"independent"}},
"hconcat":[
{"width":340,"height":220,"resolve":{"scale":{"color":"independent"}},
"layer":[
{"data":{"name":"circC"},"mark":{"type":"circle","opacity":1,"blend":"multiply"},"encoding":{
"x":{"field":"cx","type":"quantitative","scale":{"domain":[0,34],"nice":false,"zero":false},"axis":null},
"y":{"field":"cy","type":"quantitative","scale":{"domain":[2.1,24.1],"nice":false,"zero":false},"axis":null},
"color":{"field":"set","type":"nominal","scale":{"domain":["screen","day"],"range":["#A9CCF7","#FCCBC2"]},"legend":null},
"size":{"field":"set","type":"nominal","scale":{"domain":["screen","day"],"range":[7569,11881]},"legend":null}}},
{"data":{"values":[{}]},"mark":{"type":"rect","filled":false,"stroke":"#777","strokeWidth":1.2},"encoding":{"x":{"datum":4.23},"x2":{"datum":18.37},"y":{"datum":21.37},"y2":{"datum":12.8}}},
{"data":{"values":[{}]},"mark":{"type":"rule","color":"#888","strokeWidth":1},"encoding":{"x":{"datum":18.37},"y":{"datum":14.9},"x2":{"datum":22.83},"y2":{"datum":11.63}}},
{"data":{"name":"labC"},"mark":{"type":"text","fontSize":11.5,"align":"center","baseline":"middle","color":"#000"},"encoding":{"x":{"field":"x","type":"quantitative"},"y":{"field":"y","type":"quantitative"},"text":{"field":"t"}}},
{"data":{"name":"genesC"},"mark":{"type":"text","fontSize":11.5,"align":"left","baseline":"middle"},"encoding":{"x":{"field":"x","type":"quantitative"},"y":{"field":"y","type":"quantitative"},"text":{"field":"g"},"color":{"field":"c","type":"nominal","scale":{"domain":["blue","red","black"],"range":["#0000FF","#FF0000","#000000"]},"legend":null}}},
{"data":{"values":[{"lab":"C","x":0.36,"y":21.73}]},"mark":{"type":"text","fontSize":10,"align":"center","baseline":"middle","color":"#000"},"encoding":{"x":{"field":"x","type":"quantitative"},"y":{"field":"y","type":"quantitative"},"text":{"field":"lab"}}}
]},
{"width":345,"height":220,"resolve":{"scale":{"color":"independent"}},
"layer":[
{"data":{"name":"circD"},"mark":{"type":"circle","opacity":1,"blend":"multiply"},"encoding":{
"x":{"field":"cx","type":"quantitative","scale":{"domain":[0,34.5],"nice":false,"zero":false},"axis":null},
"y":{"field":"cy","type":"quantitative","scale":{"domain":[2.1,24.1],"nice":false,"zero":false},"axis":null},
"color":{"field":"set","type":"nominal","scale":{"domain":["screen","day"],"range":["#A9CCF7","#FCCBC2"]},"legend":null},
"size":{"field":"set","type":"nominal","scale":{"domain":["screen","day"],"range":[7482,11881]},"legend":null}}},
{"data":{"values":[{}]},"mark":{"type":"rect","filled":false,"stroke":"#777","strokeWidth":1.2},"encoding":{"x":{"datum":4.03},"x2":{"datum":18.17},"y":{"datum":21.57},"y2":{"datum":13.03}}},
{"data":{"values":[{}]},"mark":{"type":"rule","color":"#888","strokeWidth":1},"encoding":{"x":{"datum":18.17},"y":{"datum":14.97},"x2":{"datum":22.77},"y2":{"datum":11.8}}},
{"data":{"name":"labD"},"mark":{"type":"text","fontSize":11.5,"align":"center","baseline":"middle","color":"#000"},"encoding":{"x":{"field":"x","type":"quantitative"},"y":{"field":"y","type":"quantitative"},"text":{"field":"t"}}},
{"data":{"name":"genesD"},"mark":{"type":"text","fontSize":11.5,"align":"left","baseline":"middle"},"encoding":{"x":{"field":"x","type":"quantitative"},"y":{"field":"y","type":"quantitative"},"text":{"field":"g"},"color":{"field":"c","type":"nominal","scale":{"domain":["blue","red","black"],"range":["#0000FF","#FF0000","#000000"]},"legend":null}}},
{"data":{"values":[{"lab":"D","x":1.2,"y":21.87}]},"mark":{"type":"text","fontSize":10,"align":"center","baseline":"middle","color":"#000"},"encoding":{"x":{"field":"x","type":"quantitative"},"y":{"field":"y","type":"quantitative"},"text":{"field":"lab"}}}
]}
]},
{"bounds":"flush","spacing":0,"resolve":{"scale":{"color":"independent"},"legend":{"color":"independent"}},
"hconcat":[
{"width":248,"height":243,"data":{"values":[{"lab":"E","x":0.013,"y":0.996},{"lab":"F","x":0.013,"y":0.08}]},"mark":{"type":"text","fontSize":10.5,"align":"center","baseline":"middle"},"encoding":{"x":{"field":"x","type":"quantitative","scale":{"domain":[0,1]},"axis":null},"y":{"field":"y","type":"quantitative","scale":{"domain":[0,1]},"axis":null},"text":{"field":"lab"}}},
{"bounds":"flush","spacing":68,"resolve":{"scale":{"color":"independent"},"legend":{"color":"independent"}},
"vconcat":[
{"width":389,"height":175,"view":{"stroke":"#A6A6A6"},
"title":{"text":"OSKM-D4_vs_OSKMT-D4.significant.up.GO","fontSize":11,"fontWeight":"normal","offset":6,"dx":6,"color":"#111"},
"data":{"name":"goE"},
"resolve":{"axis":{"x":"independent"}},
"layer":[
{"mark":{"type":"bar"},"encoding":{
"y":{"field":"term","type":"nominal","sort":null,"scale":{"paddingInner":0.1,"paddingOuter":0.1},"axis":{"title":null,"labelFontSize":11,"labelColor":"#1A1A1A","tickSize":3,"tickColor":"#444","labelPadding":2,"grid":true,"gridColor":"#EBEBEB","bandPosition":0.5,"domain":false,"labelLimit":0}},
"x":{"field":"count","type":"quantitative","scale":{"domain":[-5.6,118],"nice":false,"zero":false},"axis":{"orient":"bottom","values":[0,30,60,90],"title":"Count","titleFontSize":11,"titleFontWeight":"normal","titlePadding":2,"titleColor":"#111","labelFontSize":11,"labelColor":"#1A1A1A","tickSize":3,"tickColor":"#444","labelPadding":1,"grid":true,"gridColor":"#E6E6E6","domain":false}},
"color":{"field":"p","type":"quantitative","scale":{"domain":[1.6e-5,0],"range":["#0000FF","#FF0000"],"interpolate":"lab"},"legend":{"title":"pvalue","orient":"none","legendX":331,"legendY":200,"direction":"horizontal","gradientLength":53,"gradientThickness":11,"titleOrient":"left","titleFontSize":11,"titleFontWeight":"normal","titlePadding":5,"titleColor":"#111","values":[1e-5,5e-6],"labelExpr":"replace(format(datum.value,'.0e'),'e-','e-0')","labelOffset":-21,"labelFontSize":10,"labelColor":"#333","padding":0,"gradientStrokeWidth":0,"encode":{"labels":{"update":{"angle":{"value":-40},"align":{"value":"center"},"baseline":{"value":"middle"}}}}}}}},
{"mark":{"type":"bar","opacity":0},"encoding":{
"y":{"field":"term","type":"nominal","sort":null},
"x":{"field":"count","type":"quantitative","axis":{"orient":"top","values":[15,45,75,105],"grid":true,"gridColor":"#F3F3F3","labels":false,"ticks":false,"domain":false,"title":null}}}}
]},
{"width":391,"height":175,"view":{"stroke":"#A6A6A6"},
"title":{"text":"OSKM-D8_vs_OSKMT-D8.significant.up.GO","fontSize":11,"fontWeight":"normal","offset":6,"dx":3,"color":"#111"},
"data":{"name":"goF"},
"resolve":{"axis":{"x":"independent"}},
"layer":[
{"mark":{"type":"bar"},"encoding":{
"y":{"field":"term","type":"nominal","sort":null,"scale":{"paddingInner":0.1,"paddingOuter":0.1},"axis":{"title":null,"labelFontSize":11,"labelColor":"#1A1A1A","tickSize":3,"tickColor":"#444","labelPadding":2,"grid":true,"gridColor":"#EBEBEB","bandPosition":0.5,"domain":false,"labelLimit":0}},
"x":{"field":"count","type":"quantitative","scale":{"domain":[-4.5,98.4],"nice":false,"zero":false},"axis":{"orient":"bottom","values":[0,25,50,75],"title":"Count","titleFontSize":11,"titleFontWeight":"normal","titlePadding":2,"titleColor":"#111","labelFontSize":11,"labelColor":"#1A1A1A","tickSize":3,"tickColor":"#444","labelPadding":1,"grid":true,"gridColor":"#E6E6E6","domain":false}},
"color":{"field":"p","type":"quantitative","scale":{"domain":[5.8e-6,0],"range":["#0000FF","#FF0000"],"interpolate":"lab"},"legend":{"title":"pvalue","orient":"none","legendX":334,"legendY":195,"direction":"horizontal","gradientLength":53,"gradientThickness":11,"titleOrient":"left","titleFontSize":11,"titleFontWeight":"normal","titlePadding":8,"titleColor":"#111","values":[4e-6,1e-6],"labelExpr":"replace(format(datum.value,'.0e'),'e-','e-0')","labelOffset":-21,"labelFontSize":10,"labelColor":"#333","padding":0,"gradientStrokeWidth":0,"encode":{"labels":{"update":{"angle":{"value":-40},"align":{"value":"center"},"baseline":{"value":"middle"}}}}}}}},
{"mark":{"type":"bar","opacity":0},"encoding":{
"y":{"field":"term","type":"nominal","sort":null},
"x":{"field":"count","type":"quantitative","axis":{"orient":"top","values":[12.5,37.5,62.5,87.5],"grid":true,"gridColor":"#F3F3F3","labels":false,"ticks":false,"domain":false,"title":null}}}}
]}
]}
]}
]
}
